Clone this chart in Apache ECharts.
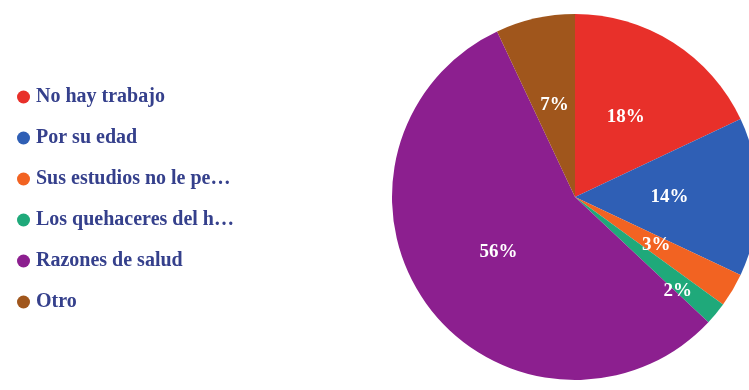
<!DOCTYPE html>
<html><head><meta charset="utf-8">
<script src="https://cdn.jsdelivr.net/npm/echarts@6/dist/echarts.min.js"></script>
<style>html,body{margin:0;padding:0;background:#fff}#c{width:749px;height:390px}</style>
</head><body><div id="c"></div>
<script>
const categories = ["No hay trabajo","Por su edad","Sus estudios no le pe…","Los quehaceres del h…","Razones de salud","Otro"];
const values = [18,14,3,2,56,7];
const colors = ["#e8302a","#2f5fb5","#f26322","#1fa97a","#8c1f8f","#a0561c"];

const chart = echarts.init(document.getElementById('c'));
chart.setOption({
  animation:false,
  backgroundColor:'#fff',
  color: colors,
  legend:{
    orient:'vertical', left:12, top:82,
    icon:'circle', itemWidth:13, itemHeight:13, itemGap:21,
    textStyle:{fontFamily:'Liberation Serif', fontWeight:'bold', fontSize:20, color:'#35408c', padding:[0,0,0,1]},
    data: categories
  },
  series:[{
    type:'pie', center:[575,197], radius:183, startAngle:90, clockwise:true,
    label:{position:'inside', formatter:'{c}%', color:'#fff', fontFamily:'Liberation Serif', fontWeight:'bold', fontSize:19},
    labelLine:{show:false},
    itemStyle:{borderWidth:0},
    data: categories.map((n,i)=>({name:n, value:values[i], label: i===3 ? {offset:[30,34]} : undefined}))
  }]
});
</script></body></html>
